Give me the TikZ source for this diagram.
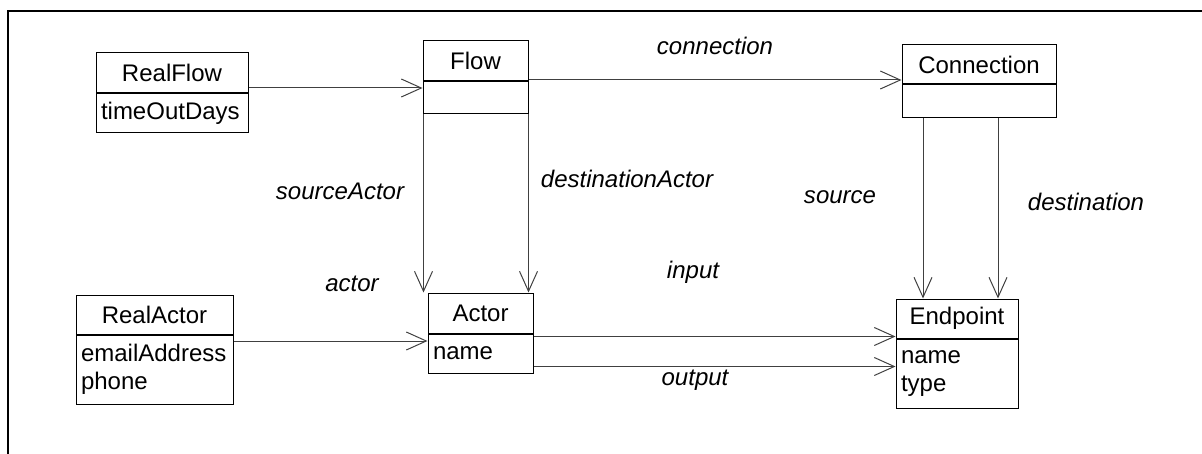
\documentclass[tikz,border=0pt]{standalone}
\usepackage{fontspec}
\setmainfont{Liberation Sans}
\usetikzlibrary{arrows.meta}

\tikzset{
  classname/.style 2 args={draw, line width=0.5pt, minimum width=#1, minimum height=#2, inner sep=0pt},
  attrbox/.style n args={3}{draw, line width=0.5pt, minimum width=#1, minimum height=#2,
    text width=#3, inner xsep=2.5pt, inner ysep=0pt, align=left, anchor=north},
  assoc/.style={draw=black!75, line width=0.5pt, -{Straight Barb[length=10pt,width=9pt]}},
  role/.style={font=\fontsize{12pt}{14pt}\selectfont\itshape},
}

\begin{document}
\begin{tikzpicture}[x=0.5pt, y=-0.5pt, font=\fontsize{12pt}{14pt}\selectfont]
  \useasboundingbox (0,0) rectangle (1202,454);
  \draw [line width=1.2pt] (1202,11) -- (8,11) -- (8,454);

  % classes
  \node [classname={76pt}{20pt}] (realflow) at (172,73) {RealFlow};
  \node [attrbox={76pt}{19.5pt}{71pt}] (realflowattr) at (realflow.south) {timeOutDays};
  \node [classname={52.5pt}{20pt}] (flow) at (475.5,61) {Flow};
  \node [attrbox={52.5pt}{16pt}{47.5pt}] (flowattr) at (flow.south) {};
  \node [classname={77pt}{19.5pt}] (connection) at (979,64.5) {Connection};
  \node [attrbox={77pt}{16.5pt}{72pt}] (connectionattr) at (connection.south) {};
  \node [classname={78.5pt}{19.5pt}] (realactor) at (154.5,314.5) {RealActor};
  \node [attrbox={78.5pt}{34.5pt}{73.5pt}] (realactorattr) at (realactor.south) {emailAddress\\phone};
  \node [classname={52.5pt}{20pt}] (actor) at (480.5,313) {Actor};
  \node [attrbox={52.5pt}{19.5pt}{47.5pt}] (actorattr) at (actor.south) {name};
  \node [classname={61pt}{19.5pt}] (endpoint) at (957,318.5) {Endpoint};
  \node [attrbox={61pt}{34.5pt}{56pt}] (endpointattr) at (endpoint.south) {name\\type};

  % role names
  \node [role] (lconnection) at (715,46) {connection};
  \node [role] (lsourceactor) at (340,191) {sourceActor};
  \node [role] (ldestactor) at (627,179) {destinationActor};
  \node [role] (lsource) at (840,197) {source};
  \node [role] (ldestination) at (1086,202) {destination};
  \node [role] (lactor) at (352,284) {actor};
  \node [role] (linput) at (693,272) {input};
  \node [role] (loutput) at (695,380) {output};

  % associations
  \draw [assoc] (realflow.east |- 0,88) -- (flowattr.west |- 0,88);
  \draw [assoc] (flow.east |- 0,80) -- (connection.west |- 0,80);
  \draw [assoc] ([xshift=0.5pt]flowattr.south west) -- ([xshift=0.5pt]flowattr.south west |- actor.north);
  \draw [assoc] (flowattr.south east) -- (flowattr.south east |- actor.north);
  \draw [assoc] (923,0 |- connectionattr.south) -- (923,0 |- endpoint.north);
  \draw [assoc] (998,0 |- connectionattr.south) -- (998,0 |- endpoint.north);
  \draw [assoc] (realactorattr.east |- 0,341) -- (actorattr.west |- 0,341);
  \draw [assoc] (actorattr.east |- 0,336.5) -- (endpointattr.west |- 0,336.5);
  \draw [assoc] (actorattr.east |- 0,366.5) -- (endpointattr.west |- 0,366.5);
\end{tikzpicture}
\end{document}
